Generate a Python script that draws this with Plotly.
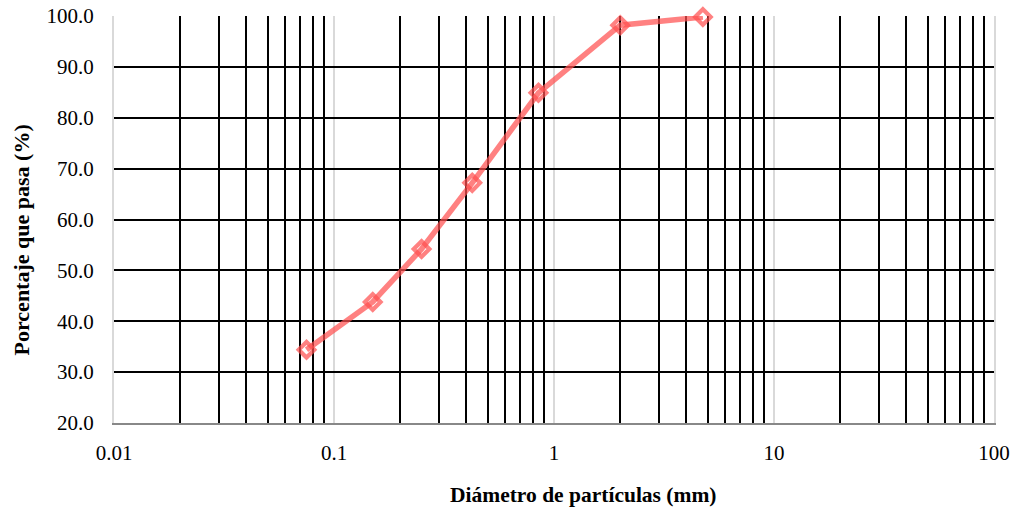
import plotly.graph_objects as go

diametro = [0.075, 0.15, 0.25, 0.425, 0.85, 2.0, 4.75]
porcentaje = [34.4, 43.8, 54.2, 67.2, 84.9, 98.2, 99.8]

y_ticks = [20, 30, 40, 50, 60, 70, 80, 90, 100]
x_ticks = [0.01, 0.1, 1, 10, 100]
x_tick_text = ["0.01", "0.1", "1", "10", "100"]
x_minor_ticks = [m * d for d in [0.01, 0.1, 1, 10] for m in range(2, 10)]

x_title = "<b>Diámetro de partículas (mm)</b>"
y_title = "<b>Porcentaje que pasa (%)</b>"

red = "rgba(255,80,80,0.72)"

fig = go.Figure()
fig.add_trace(go.Scatter(
    x=diametro, y=porcentaje, mode="lines+markers",
    line=dict(color=red, width=5.5),
    marker=dict(symbol="diamond-open", size=12, color=red,
                line=dict(width=4.2, color=red)),
    showlegend=False, cliponaxis=False, hoverinfo="skip",
))

font_family = "Liberation Serif"
fig.update_layout(
    width=1020, height=514,
    margin=dict(l=114, r=26, t=16, b=91, autoexpand=False),
    paper_bgcolor="white", plot_bgcolor="white",
    font=dict(family=font_family, color="black", size=21),
    xaxis=dict(
        type="log", range=[-2, 2], automargin=False,
        tickmode="array", tickvals=x_ticks, ticktext=x_tick_text,
        showgrid=True, gridcolor="#d9d9d9", gridwidth=2,
        minor=dict(tickmode="array", tickvals=x_minor_ticks, showgrid=True,
                   gridcolor="black", gridwidth=2, ticks=""),
        showline=True, linecolor="#888888", linewidth=2,
        ticks="outside", ticklen=10, tickcolor="rgba(0,0,0,0)",
        tickfont=dict(size=21, family=font_family),
        ticklabeloverflow="allow",
        zeroline=False,
    ),
    xaxis2=dict(
        type="log", range=[-2, 2], overlaying="x", side="top", anchor="y",
        showline=True, linecolor="black", linewidth=2,
        showgrid=False, showticklabels=False, ticks="", zeroline=False,
    ),
    yaxis=dict(
        range=[20, 100], tickvals=y_ticks, tickformat=".1f", automargin=False,
        showgrid=True, gridcolor="black", gridwidth=2,
        showline=True, linecolor="#d9d9d9", linewidth=2, mirror=True,
        ticks="outside", ticklen=14, tickcolor="rgba(0,0,0,0)",
        tickfont=dict(size=21, family=font_family),
        ticklabeloverflow="allow",
        zeroline=False,
    ),
    annotations=[
        dict(text=x_title, xref="paper", yref="paper", x=0.534, y=-0.177,
             xanchor="center", yanchor="middle", showarrow=False,
             font=dict(size=21.5, family=font_family, color="black")),
        dict(text=y_title, xref="paper", yref="paper", x=-0.105, y=0.45,
             xanchor="center", yanchor="middle", showarrow=False, textangle=-90,
             font=dict(size=22, family=font_family, color="black")),
    ],
)

fig.write_html("out.html", config={"displayModeBar": False},
               post_script="document.body.style.margin='0';")
